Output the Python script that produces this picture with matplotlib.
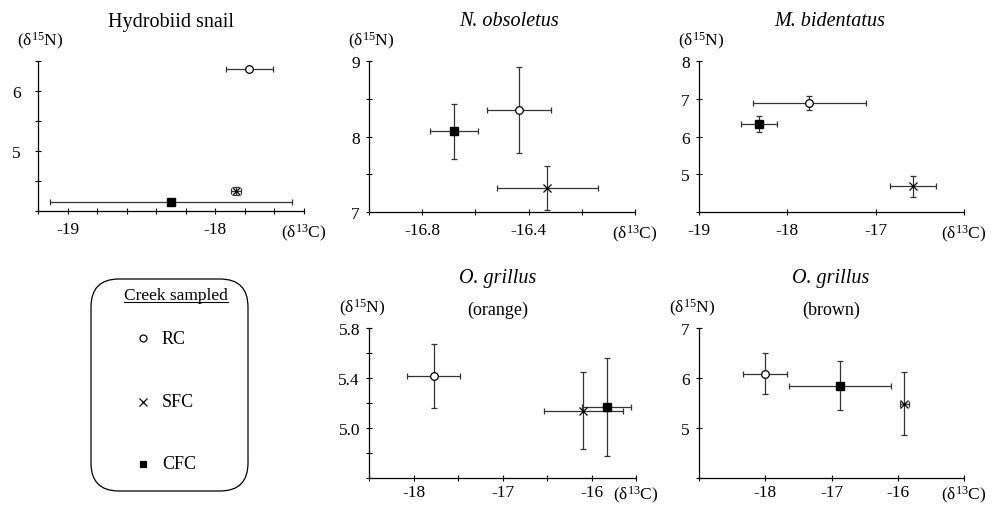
import numpy as np
import matplotlib
matplotlib.use("Agg")
from matplotlib import pyplot as plt
from matplotlib.patches import FancyBboxPatch

plt.rcParams['font.family'] = ['Liberation Serif', 'DejaVu Serif']
plt.rcParams['mathtext.fontset'] = 'custom'
plt.rcParams['mathtext.rm'] = 'Liberation Serif'
plt.rcParams['mathtext.it'] = 'Liberation Serif:italic'

# panels
titles = ['Hydrobiid snail', 'N. obsoletus', 'M. bidentatus', 'O. grillus', 'O. grillus']
subtitles = ['', '', '', '(orange)', '(brown)']
italic = [False, True, True, True, True]

# mean and SD per creek, one entry per panel
rc_x = [-17.77, -16.435, -17.75, -17.775, -18.0]
rc_xerr = [0.16, 0.12, 0.64, 0.30, 0.335]
rc_y = [6.37, 8.35, 6.88, 5.42, 6.09]
rc_yerr = [0.02, 0.575, 0.19, 0.256, 0.41]

sfc_x = [-17.86, -16.33, -16.58, -16.09, -15.9]
sfc_xerr = [0.035, 0.19, 0.26, 0.445, 0.07]
sfc_y = [4.33, 7.315, 4.68, 5.14, 5.49]
sfc_yerr = [0.07, 0.29, 0.27, 0.31, 0.63]

cfc_x = [-18.30, -16.68, -18.32, -15.83, -16.87]
cfc_xerr = [0.82, 0.091, 0.20, 0.276, 0.77]
cfc_y = [4.15, 8.07, 6.33, 5.17, 5.85]
cfc_yerr = [0.03, 0.365, 0.21, 0.39, 0.49]

# axis limits and tick labels
xlims = [(-19.2, -17.4), (-17.0, -16.0), (-19, -16), (-18.5, -15.5), (-19, -15)]
xsteps = [0.2, 0.2, 1.0, 0.5, 1.0]
xlabeled = [[-19, -18], [-16.8, -16.4], [-19, -18, -17], [-18, -17, -16], [-18, -17, -16]]
xfmt = ['%g', '%.1f', '%g', '%g', '%g']
ylims = [(4, 6.5), (7, 9), (4, 8), (4.6, 5.8), (4, 7)]
ysteps = [0.5, 0.5, 1.0, 0.2, 1.0]
ylabeled = [[5, 6], [7, 8, 9], [5, 6, 7, 8], [5.0, 5.4, 5.8], [5, 6, 7]]
yfmt = ['%g', '%g', '%g', '%.1f', '%g']

W, H = 997, 506
# axes boxes in pixels: left, top, right, bottom
boxes = [(38, 62, 304, 212), (369, 62, 635, 213), (699, 62, 964, 213),
         (369, 329, 636, 479), (699, 329, 964, 479)]
title_x = [171, 509, 830, 498, 831]

fig = plt.figure(figsize=(W / 100, H / 100), dpi=100)


def ftext(x, y, s, **kw):
    fig.text(x / W, 1 - y / H, s, **kw)


ebkw = dict(ecolor='#333333', elinewidth=0.9, capsize=2, capthick=0.9, linestyle='none')

for i in range(5):
    l, t, r, b = boxes[i]
    ax = fig.add_axes([l / W, 1 - b / H, (r - l) / W, (b - t) / H])
    ax.errorbar(rc_x[i], rc_y[i], xerr=rc_xerr[i], yerr=rc_yerr[i], marker='o', ms=5.5,
                mfc='white', mec='black', mew=0.9, **ebkw)
    ax.errorbar(sfc_x[i], sfc_y[i], xerr=sfc_xerr[i], yerr=sfc_yerr[i], marker='x', ms=6,
                mec='black', mew=0.9, **ebkw)
    ax.errorbar(cfc_x[i], cfc_y[i], xerr=cfc_xerr[i], yerr=cfc_yerr[i], marker='s', ms=5.5,
                mfc='black', mec='black', **ebkw)

    x0, x1 = xlims[i]
    y0, y1 = ylims[i]
    ax.set_xlim(x0, x1)
    ax.set_ylim(y0, y1)
    xt = np.round(np.arange(x0, x1 + 1e-6, xsteps[i]), 2)
    yt = np.round(np.arange(y0, y1 + 1e-6, ysteps[i]), 2)
    xl = [(xfmt[i] % v) if any(abs(v - q) < 1e-6 for q in xlabeled[i]) else '' for v in xt]
    xl[-1] = r'(δ$^{13}$C)'
    yl = [(yfmt[i] % v) if any(abs(v - q) < 1e-6 for q in ylabeled[i]) else '' for v in yt]
    ax.set_xticks(xt)
    ax.set_xticklabels(xl)
    ax.set_yticks(yt)
    ax.set_yticklabels(yl)
    ax.tick_params(direction='inout', length=5, width=0.8, labelsize=12.5)
    ax.tick_params(axis='x', pad=5 if i < 3 else 1.5)
    ax.tick_params(axis='y', pad=10 if i == 0 else 4)
    for s in ['top', 'right']:
        ax.spines[s].set_visible(False)
    for s in ['left', 'bottom']:
        ax.spines[s].set_linewidth(0.9)

    style = 'italic' if italic[i] else 'normal'
    if subtitles[i]:
        ftext(title_x[i], t - 51, titles[i], ha='center', va='center', fontsize=14.5, style=style)
        ftext(title_x[i], t - 19, subtitles[i], ha='center', va='center', fontsize=13)
        ftext(l - 7, t - 21, r'(δ$^{15}$N)', ha='center', va='center', fontsize=12.5)
    else:
        ftext(title_x[i], t - 40, titles[i], ha='center', va='center', fontsize=14.5, style=style)
        ftext(l + 2, t - 21, r'(δ$^{15}$N)', ha='center', va='center', fontsize=12.5)

# legend box
lax = fig.add_axes([0, 0, 1, 1])
lax.set_xlim(0, W)
lax.set_ylim(H, 0)
lax.axis('off')
rad = 28
lax.add_patch(FancyBboxPatch((91 + rad, 280 + rad), 157 - 2 * rad, 212 - 2 * rad,
                             boxstyle='round,pad=%d' % rad, fc='none', ec='black', lw=0.9))
lax.text(176, 296, 'Creek sampled', ha='center', va='center', fontsize=12.5)
lax.plot([124, 228], [303, 303], color='black', lw=0.8)
creeks = ['RC', 'SFC', 'CFC']
for name, yy, mk, fc, sz in zip(creeks, [339, 403, 465], ['o', 'x', 's'],
                                ['white', 'black', 'black'], [5, 5.5, 5]):
    lax.plot([143], [yy], marker=mk, ms=sz, mfc=fc, mec='black', mew=0.9, linestyle='none')
    lax.text(162, yy, name, ha='left', va='center', fontsize=13)

plt.savefig('out.png', dpi=100)
